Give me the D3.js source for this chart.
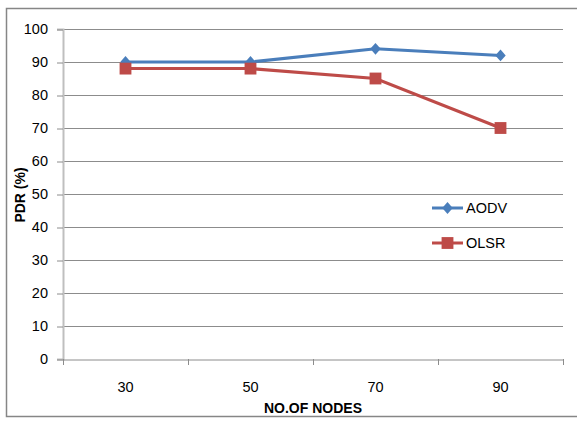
<!DOCTYPE html>
<html>
<head>
<meta charset="utf-8">
<script src="https://cdn.jsdelivr.net/npm/d3@7"></script>
<style>
    body { margin: 0; background: #fff; }
    svg { display: block; font-family: "Liberation Sans", Arial, sans-serif; }
</style>
</head>
<body>
<script>
// Chart data
const nodes = ["30", "50", "70", "90"];
const aodv = [90, 90, 94, 92];
const olsr = [88, 88, 85, 70];
const yTicks = [0, 10, 20, 30, 40, 50, 60, 70, 80, 90, 100];

const W = 577, H = 421;
const plot = { left: 63, right: 563, top: 29, bottom: 359 };

// wide diamond, roughly 10 x 12 px like the spreadsheet marker
const wideDiamond = {
    draw(ctx, size) {
        const w = Math.sqrt(size) * 0.55, h = Math.sqrt(size) * 0.62;
        ctx.moveTo(0, -h);
        ctx.lineTo(w, 0);
        ctx.lineTo(0, h);
        ctx.lineTo(-w, 0);
        ctx.closePath();
    }
};

const svg = d3.select("body").append("svg")
    .attr("width", W)
    .attr("height", H);

// outer frame
svg.append("rect")
    .attr("x", 6.5).attr("y", 8.5)
    .attr("width", 580).attr("height", 408)
    .attr("fill", "#fff")
    .attr("stroke", "#868686")
    .attr("stroke-width", 1.5);

const x = d3.scaleBand().domain(nodes).range([plot.left, plot.right]);
const y = d3.scaleLinear().domain([0, 100]).range([plot.bottom, plot.top]);

// gridlines
svg.append("g")
    .selectAll("line")
    .data(yTicks.slice(1))
    .join("line")
    .attr("x1", plot.left).attr("x2", plot.right)
    .attr("y1", d => y(d) + 0.5).attr("y2", d => y(d) + 0.5)
    .attr("stroke", "#8c8c8c");

// y axis
const yAxis = svg.append("g")
    .attr("transform", `translate(${plot.left},0)`)
    .call(d3.axisLeft(y).tickValues(yTicks).tickSize(6).tickPadding(9));
yAxis.select(".domain").attr("stroke", "#bfbfbf").attr("stroke-width", 2);
yAxis.selectAll(".tick line").attr("stroke", "#8c8c8c").attr("transform", "translate(0,0.5)");
yAxis.selectAll("text").attr("font-size", 14.5).attr("fill", "#000");

// x axis
const xAxis = svg.append("g")
    .attr("transform", `translate(0,${plot.bottom + 0.5})`)
    .call(d3.axisBottom(x).tickSize(0).tickPadding(22));
xAxis.select(".domain").attr("stroke", "#8c8c8c").attr("stroke-width", 1);
xAxis.selectAll("text").attr("font-size", 14.5).attr("fill", "#000");

// x tick marks at band edges
svg.append("g")
    .selectAll("line")
    .data(nodes.map(d => x(d)).concat([plot.right]))
    .join("line")
    .attr("x1", d => d + 0.5).attr("x2", d => d + 0.5)
    .attr("y1", plot.bottom).attr("y2", plot.bottom + 6)
    .attr("stroke", "#8c8c8c");

// axis titles
svg.append("text")
    .attr("x", (plot.left + plot.right) / 2)
    .attr("y", 413)
    .attr("text-anchor", "middle")
    .attr("font-size", 14)
    .attr("font-weight", "bold")
    .text("NO.OF NODES");

svg.append("text")
    .attr("transform", `translate(25,195) rotate(-90)`)
    .attr("text-anchor", "middle")
    .attr("font-size", 14)
    .attr("font-weight", "bold")
    .text("PDR (%)");

const cx = d => x(d) + x.bandwidth() / 2;
const line = d3.line().x(d => cx(d[0])).y(d => y(d[1]));

const series = [
    { name: "AODV", values: aodv, color: "#4a7ebb", marker: wideDiamond, size: 90 },
    { name: "OLSR", values: olsr, color: "#be4b48", marker: d3.symbolSquare, size: 140 }
];

series.forEach(s => {
    const pts = nodes.map((n, i) => [n, s.values[i]]);
    svg.append("path")
        .datum(pts)
        .attr("d", line)
        .attr("fill", "none")
        .attr("stroke", s.color)
        .attr("stroke-width", 3);
    svg.append("g")
        .selectAll("path")
        .data(pts)
        .join("path")
        .attr("transform", d => `translate(${cx(d[0])},${y(d[1])})`)
        .attr("d", d3.symbol().type(s.marker).size(s.size))
        .attr("fill", s.color);
});

// legend
const legend = svg.append("g");
series.forEach((s, i) => {
    const ly = 208 + i * 35;
    legend.append("line")
        .attr("x1", 432).attr("x2", 463)
        .attr("y1", ly).attr("y2", ly)
        .attr("stroke", s.color)
        .attr("stroke-width", 3);
    legend.append("path")
        .attr("transform", `translate(447.5,${ly})`)
        .attr("d", d3.symbol().type(s.marker).size(s.size))
        .attr("fill", s.color);
    legend.append("text")
        .attr("x", 466).attr("y", ly + 5)
        .attr("font-size", 14.5)
        .text(s.name);
});
</script>
</body>
</html>
